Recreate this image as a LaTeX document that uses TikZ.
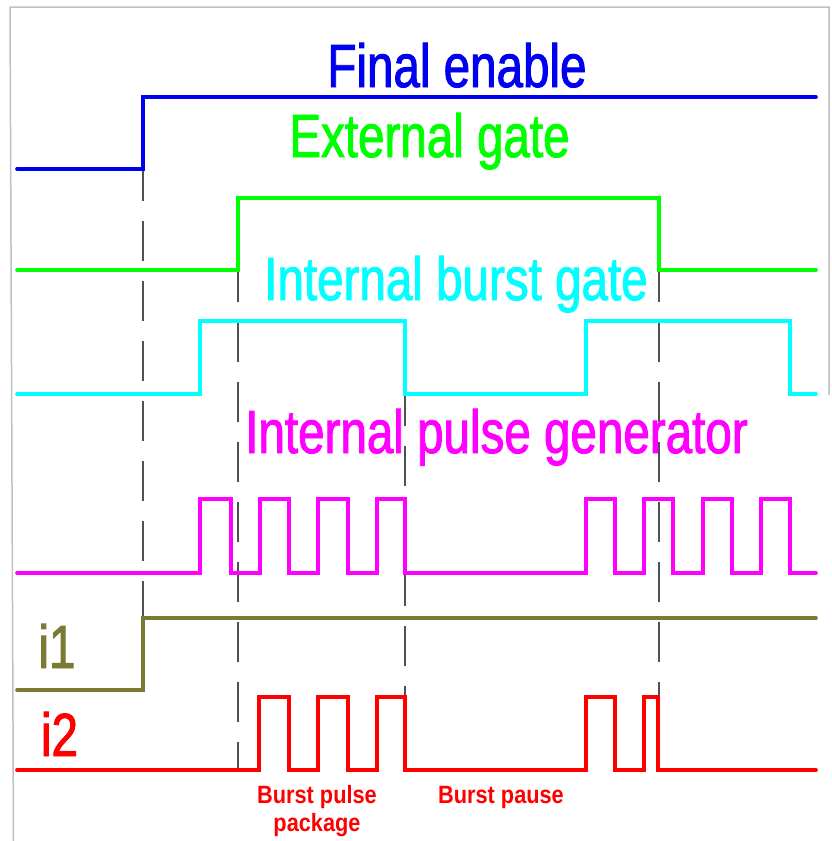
\documentclass[tikz,border=0pt]{standalone}
\usepackage{fontspec}
\newfontfamily\lblfont{Liberation Sans}[FakeStretch=0.78,FakeBold=1.5]
\newfontfamily\smallfont{Liberation Sans}[FakeStretch=0.87]
\definecolor{sigblue}{RGB}{0,0,240}
\definecolor{siggreen}{RGB}{0,255,0}
\definecolor{sigcyan}{RGB}{0,255,255}
\definecolor{sigmag}{RGB}{255,0,255}
\definecolor{sigolive}{RGB}{122,122,52}
\definecolor{sigred}{RGB}{255,0,0}
\definecolor{framegray}{RGB}{192,192,192}
\definecolor{dashgray}{RGB}{80,80,80}
\begin{document}
\begin{tikzpicture}[x=1pt,y=-1pt,
  signal/.style={line width=3.6pt,line cap=round,line join=miter},
  guide/.style={line width=1.6pt,draw=dashgray,dash pattern=on 40pt off 20pt,dash phase=8pt},
  biglabel/.style={inner sep=0pt,anchor=base,font=\lblfont\fontsize{61}{70}\selectfont},
  smalllabel/.style={inner sep=0pt,anchor=base,align=center,font=\smallfont\bfseries\fontsize{25}{28}\selectfont,text=sigred}]
\useasboundingbox (0,0) rectangle (831,841);
% frame
\draw[framegray,line width=1.5pt] (13.5,841) -- (10,7) -- (829,7) -- (829,395);
% guides
\coordinate (g1t) at (143,169); \coordinate (g1b) at (143,618);
\coordinate (g2t) at (238,270); \coordinate (g2b) at (238,770);
\coordinate (g3t) at (405,394); \coordinate (g3b) at (405,697);
\coordinate (g4t) at (659,270); \coordinate (g4b) at (659,697);
\draw[guide] (g1t) -- (g1b);
\draw[guide] (g2t) -- (g2b);
\draw[guide] (g3t) -- (g3b);
\draw[guide] (g4t) -- (g4b);
% Final enable
\draw[signal,sigblue] (17,169) -- (143,169) -- (143,97) -- (816,97);
% External gate
\draw[signal,siggreen] (17,270) -- (238,270) -- (238,198) -- (659,198) -- (659,270) -- (816,270);
% Internal burst gate
\draw[signal,sigcyan] (17,394) -- (200,394) -- (200,321) -- (405,321) -- (405,394) -- (586,394) -- (586,321) -- (790,321) -- (790,394) -- (816,394);
% Internal pulse generator
\draw[signal,sigmag] (17,573)
  -- (200,573) -- (200,499) -- (231,499) -- (231,573)
  -- (260,573) -- (260,499) -- (289,499) -- (289,573)
  -- (318,573) -- (318,499) -- (348,499) -- (348,573)
  -- (377,573) -- (377,499) -- (405,499) -- (405,573)
  -- (586,573) -- (586,499) -- (615,499) -- (615,573)
  -- (644,573) -- (644,499) -- (673,499) -- (673,573)
  -- (703,573) -- (703,499) -- (732,499) -- (732,573)
  -- (761,573) -- (761,499) -- (790,499) -- (790,573)
  -- (816,573);
% i1
\draw[signal,sigolive] (17,690) -- (143,690) -- (143,618) -- (816,618);
% i2
\draw[signal,sigred] (17,770)
  -- (259,770) -- (259,697) -- (289,697) -- (289,770)
  -- (318,770) -- (318,697) -- (348,697) -- (348,770)
  -- (377,770) -- (377,697) -- (405,697) -- (405,770)
  -- (586,770) -- (586,697) -- (615,697) -- (615,770)
  -- (644,770) -- (644,697) -- (658,697) -- (658,770)
  -- (816,770);
% labels
\node[biglabel,text=sigblue] (lfinal) at (457,87) {Final enable};
\node[biglabel,text=siggreen] (lext) at (429.5,157) {External gate};
\node[biglabel,text=sigcyan] (lburst) at (456,300) {Internal burst gate};
\node[biglabel,text=sigmag] (lpulse) at (496.5,453) {Internal pulse generator};
\node[biglabel,text=sigolive] (li1) at (57,668) {i1};
\node[biglabel,text=sigred] (li2) at (59.5,756) {i2};
\node[smalllabel,anchor=north] (lpkg) at (317,785) {Burst pulse\\package};
\node[smalllabel] (lpause) at (501,803) {Burst pause};
\end{tikzpicture}
\end{document}
